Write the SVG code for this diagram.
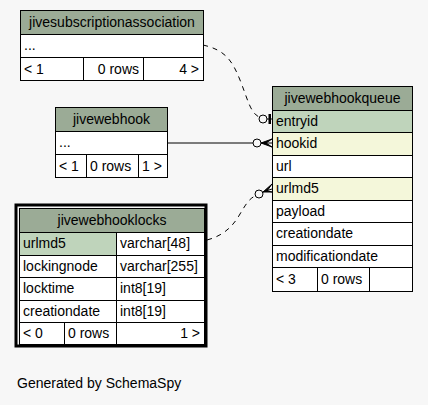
<svg xmlns="http://www.w3.org/2000/svg" width="428" height="405" viewBox="0 0 428 405">
<style>
text{font-family:"Liberation Sans",Arial,sans-serif;font-size:14px;fill:#000}
.hd{fill:#9bab96}
.pk{fill:#bfd4bb}
.fk{fill:#f4f7da}
.wt{fill:#fff}
.bd{stroke:#000;stroke-width:1}
.ln{fill:none;stroke:#000;stroke-width:1}
.dash{fill:none;stroke:#000;stroke-width:1;stroke-dasharray:5,5}
</style>
<rect width="428" height="405" fill="#f7f7f7"/>
<g id="connectors">
<path class="dash" d="M203,45 C225,50 232,60 240,80 C248,100 250,112 259,117"/>
<circle class="ln" cx="263" cy="119" r="4"/>
<path d="M267,119 L272,119" stroke="#000"/>
<rect x="268.5" y="114" width="2.5" height="10" fill="#000"/>
<path class="ln" d="M168,143 L253,143"/>
<circle class="ln" cx="257" cy="143" r="4"/>
<path d="M261,143 L272,139 L266,143 L272,147 Z M261,143 L272,143" fill="#000" stroke="#000"/>
<path class="dash" d="M207,240 C222,236 232,228 240,214 C246,204 249,199 255,196"/>
<circle class="ln" cx="259" cy="194" r="4"/>
<path d="M263,192 L272,184 L267,191 L272,192 Z M263,192 L272,189" fill="#000" stroke="#000"/>
</g>
<g id="jivesubscriptionassociation">
<rect class="hd bd" x="20.5" y="10.5" width="183" height="24"/>
<text x="112" y="27" text-anchor="middle">jivesubscriptionassociation</text>
<rect class="wt bd" x="20.5" y="34.5" width="183" height="23"/>
<text x="24" y="50">...</text>
<rect class="wt bd" x="20.5" y="57.5" width="183" height="23"/>
<path class="ln" d="M83.5,57.5 V80.5 M143.5,57.5 V80.5"/>
<text x="24" y="74">&lt; 1</text>
<text x="139" y="74" text-anchor="end">0 rows</text>
<text x="199" y="74" text-anchor="end">4 &gt;</text>
</g>
<g id="jivewebhook">
<rect class="hd bd" x="55.5" y="107.5" width="112" height="24"/>
<text x="111.5" y="124" text-anchor="middle">jivewebhook</text>
<rect class="wt bd" x="55.5" y="131.5" width="112" height="23"/>
<text x="59" y="147">...</text>
<rect class="wt bd" x="55.5" y="154.5" width="112" height="23"/>
<path class="ln" d="M86.5,154.5 V177.5 M138.5,154.5 V177.5"/>
<text x="59" y="171">&lt; 1</text>
<text x="90" y="171">0 rows</text>
<text x="142" y="171">1 &gt;</text>
</g>
<g id="jivewebhookqueue">
<rect class="hd bd" x="272.5" y="86.5" width="140" height="24"/>
<text x="342.5" y="103" text-anchor="middle">jivewebhookqueue</text>
<rect class="pk bd" x="272.5" y="110.5" width="140" height="22"/>
<text x="276" y="126">entryid</text>
<rect class="fk bd" x="272.5" y="132.5" width="140" height="23"/>
<text x="276" y="148">hookid</text>
<rect class="wt bd" x="272.5" y="155.5" width="140" height="22"/>
<text x="276" y="171">url</text>
<rect class="fk bd" x="272.5" y="177.5" width="140" height="23"/>
<text x="276" y="193">urlmd5</text>
<rect class="wt bd" x="272.5" y="200.5" width="140" height="22"/>
<text x="276" y="216">payload</text>
<rect class="wt bd" x="272.5" y="222.5" width="140" height="23"/>
<text x="276" y="238">creationdate</text>
<rect class="wt bd" x="272.5" y="245.5" width="140" height="22"/>
<text x="276" y="261">modificationdate</text>
<rect class="wt bd" x="272.5" y="267.5" width="140" height="24"/>
<path class="ln" d="M317.5,267.5 V291.5 M369.5,267.5 V291.5"/>
<text x="276" y="284">&lt; 3</text>
<text x="321" y="284">0 rows</text>
</g>
<g id="jivewebhooklocks">
<rect x="16" y="205" width="190" height="141" fill="none" stroke="#000" stroke-width="3"/>
<rect class="hd bd" x="19.5" y="208.5" width="185" height="24"/>
<text x="112" y="225" text-anchor="middle">jivewebhooklocks</text>
<rect class="pk bd" x="19.5" y="232.5" width="97" height="23"/>
<rect class="wt bd" x="116.5" y="232.5" width="88" height="23"/>
<text x="23" y="248">urlmd5</text>
<text x="120" y="248">varchar[48]</text>
<rect class="wt bd" x="19.5" y="255.5" width="97" height="22"/>
<rect class="wt bd" x="116.5" y="255.5" width="88" height="22"/>
<text x="23" y="271">lockingnode</text>
<text x="120" y="271">varchar[255]</text>
<rect class="wt bd" x="19.5" y="277.5" width="97" height="23"/>
<rect class="wt bd" x="116.5" y="277.5" width="88" height="23"/>
<text x="23" y="293">locktime</text>
<text x="120" y="293">int8[19]</text>
<rect class="wt bd" x="19.5" y="300.5" width="97" height="22"/>
<rect class="wt bd" x="116.5" y="300.5" width="88" height="22"/>
<text x="23" y="316">creationdate</text>
<text x="120" y="316">int8[19]</text>
<rect class="wt bd" x="19.5" y="322.5" width="185" height="22"/>
<path class="ln" d="M64.5,322.5 V344.5 M116.5,322.5 V344.5"/>
<text x="23" y="338">&lt; 0</text>
<text x="68" y="338">0 rows</text>
<text x="200" y="338" text-anchor="end">1 &gt;</text>
</g>
<text x="17" y="388">Generated by SchemaSpy</text>
</svg>
